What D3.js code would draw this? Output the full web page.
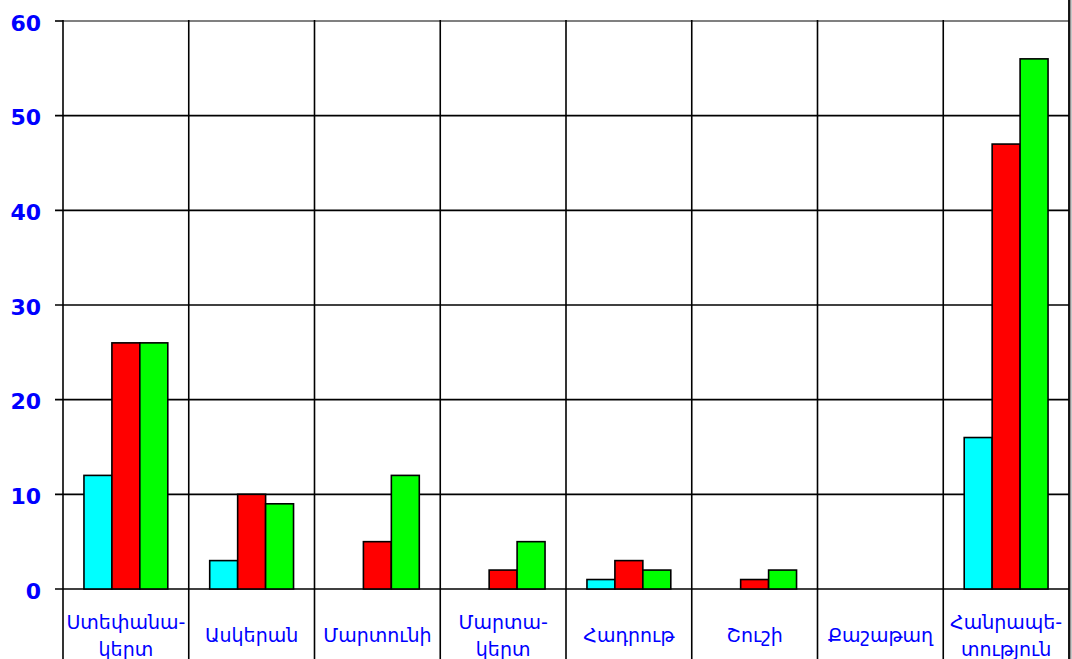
<!DOCTYPE html>
<html>
<head>
<meta charset="utf-8">
<script src="https://cdn.jsdelivr.net/npm/d3@7"></script>
<style>
  html, body { margin: 0; padding: 0; background: #fff; }
  svg { display: block; }
</style>
</head>
<body>
<svg id="chart" width="1072" height="659"></svg>
<script>
// Regions (label lines) and the three series per region
const categories = [
  ["Ստեփանա-", "կերտ"],
  ["Ասկերան"],
  ["Մարտունի"],
  ["Մարտա-", "կերտ"],
  ["Հադրութ"],
  ["Շուշի"],
  ["Քաշաթաղ"],
  ["Հանրապե-", "տություն"]
];
const seriesA = [12, 3, 0, 0, 1, 0, 0, 16];
const seriesB = [26, 10, 5, 2, 3, 1, 0, 47];
const seriesC = [26, 9, 12, 5, 2, 2, 0, 56];
const seriesColors = ["#00FFFF", "#FF0000", "#00FF00"];
const yTicks = [0, 10, 20, 30, 40, 50, 60];

const svg = d3.select("#chart");
const W = 1072, H = 659;
const plotL = 63, plotR = 1069, plotT = 21, plotB = 589;

const keys = categories.map((c, i) => i);
const x = d3.scaleBand().domain(keys).range([plotL, plotR]).paddingInner(0).paddingOuter(0);
const x1 = d3.scaleBand().domain([0, 1, 2]).range([0, x.bandwidth()]).paddingInner(0).paddingOuter(0.75);
const y = d3.scaleLinear().domain([0, 60]).range([plotB, plotT]);

// horizontal grid lines with left ticks
svg.append("g").selectAll("line").data(yTicks.filter(t => t < 60)).join("line")
  .attr("x1", plotL - 8).attr("x2", plotR)
  .attr("y1", d => y(d)).attr("y2", d => y(d))
  .attr("stroke", "#000").attr("stroke-width", 1.6);
// top grid line (grey)
svg.append("line")
  .attr("x1", plotL).attr("x2", plotR).attr("y1", y(60)).attr("y2", y(60))
  .attr("stroke", "#808080").attr("stroke-width", 2);
svg.append("line")
  .attr("x1", plotL - 8).attr("x2", plotL).attr("y1", y(60)).attr("y2", y(60))
  .attr("stroke", "#000").attr("stroke-width", 1.6);

// vertical separators between regions
const bounds = keys.map(k => x(k));
svg.append("g").selectAll("line").data(bounds).join("line")
  .attr("x1", d => d).attr("x2", d => d)
  .attr("y1", y(60) - 1).attr("y2", H)
  .attr("stroke", "#000").attr("stroke-width", 1.6);
// right border
svg.append("line")
  .attr("x1", plotR + 1.5).attr("x2", plotR + 1.5).attr("y1", 0).attr("y2", H)
  .attr("stroke", "#909090").attr("stroke-width", 2);
svg.append("line")
  .attr("x1", plotR).attr("x2", plotR).attr("y1", 0).attr("y2", H)
  .attr("stroke", "#000").attr("stroke-width", 1.8);

// bars
const series = [seriesA, seriesB, seriesC];
const groups = svg.append("g").selectAll("g").data(keys).join("g")
  .attr("transform", k => `translate(${x(k)},0)`);
groups.selectAll("rect")
  .data(k => series.map((s, si) => ({ si, v: s[k] })).filter(d => d.v > 0))
  .join("rect")
  .attr("x", d => x1(d.si))
  .attr("width", x1.bandwidth())
  .attr("y", d => y(d.v))
  .attr("height", d => y(0) - y(d.v))
  .attr("fill", d => seriesColors[d.si])
  .attr("stroke", "#000").attr("stroke-width", 1.6);

// y axis labels
svg.append("g").selectAll("text").data(yTicks).join("text")
  .attr("x", 41).attr("y", d => y(d) + 9.5)
  .attr("text-anchor", "end")
  .attr("font-family", "DejaVu Sans, sans-serif")
  .attr("font-weight", "bold").attr("font-size", 22)
  .attr("fill", "#0000FF")
  .text(d => d);

// region labels
const lab = svg.append("g").selectAll("text").data(keys).join("text")
  .attr("text-anchor", "middle")
  .attr("font-family", "DejaVu Sans, sans-serif")
  .attr("font-size", 19)
  .attr("fill", "#0000FF");
lab.each(function(k) {
  const lines = categories[k];
  const cx = x(k) + x.bandwidth() / 2;
  const t = d3.select(this);
  if (lines.length === 1) {
    t.append("tspan").attr("x", cx).attr("y", 642).text(lines[0]);
  } else {
    lines.forEach((s, i) => t.append("tspan").attr("x", cx).attr("y", 629 + i * 27).text(s));
  }
});
</script>
</body>
</html>
